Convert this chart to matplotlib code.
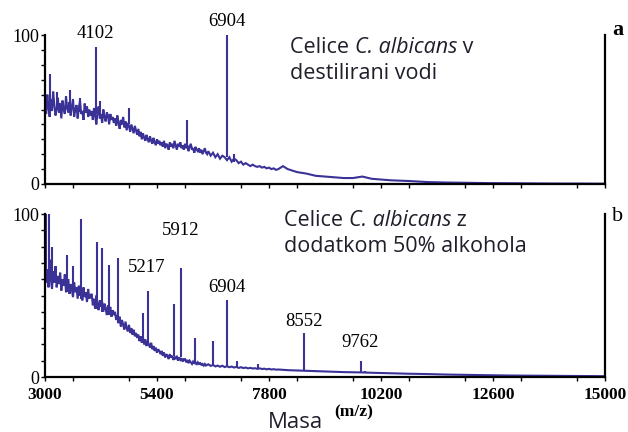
import numpy as np
import matplotlib
matplotlib.use("Agg")
import matplotlib.pyplot as plt
from matplotlib.ticker import MultipleLocator, FixedLocator

# ---------------- data ----------------
grid_mass = np.concatenate([np.arange(3000, 6501, 25), np.arange(6550, 8001, 50)])
tail_mass = [8100, 8200, 8400, 8600, 8800, 9000, 9200, 9400, 9600, 9800, 10000,
             10400, 10800, 11200, 11600, 12000, 12500, 13000, 13500, 14000, 14500, 15000]

top_grid = [55, 47, 60, 51, 45, 57, 49, 62, 53, 46, 50, 58, 48, 54, 44, 56, 50, 47, 59, 51,
            48, 55, 46, 52, 57, 45, 50, 53, 44, 51, 56, 47, 49, 43, 54, 48, 52, 45, 50, 46,
            49, 43, 51, 46, 40, 48, 52, 44, 47, 41, 50, 45, 42, 48, 46, 40, 47, 43, 45, 41,
            44, 39, 46, 41, 37, 43, 40, 45, 38, 42, 36, 41, 39, 35, 40, 37, 34, 39, 36, 33,
            37, 32, 35, 30, 34, 31, 29, 33, 30, 28, 32, 29, 27, 31, 28, 26, 30, 27, 29, 26,
            28, 25, 29, 24, 27, 26, 23, 28, 25, 27, 24, 29, 26, 23, 27, 25, 28, 24, 26, 23,
            27, 24, 26, 22, 25, 27, 23, 24, 21, 25, 23, 22, 24, 21, 23, 20, 22, 24, 21, 20,
            22,
            19, 21, 18, 20, 17, 19, 18, 16, 18, 15, 17, 16, 14, 15, 13, 14, 13, 12, 13, 12,
            11.5, 12, 11, 11.5, 10.5, 11, 10, 10.5, 9.5, 10]
top_tail = [12, 10, 8, 7, 5.5, 5, 4.5, 4, 4, 5, 3.5,
            2.5, 2, 1.3, 1, 0.8, 0.6, 0.5, 0.4, 0.3, 0.3, 0.2]

top_peak_mass = [3100, 3250, 3530, 3750, 4102, 4170, 4800, 6040, 6904, 7050]
top_peak_height = [74, 62, 63, 58, 92, 56, 51, 43, 100, 20]
top_peak_foot = [50, 52, 50, 48, 47, 45, 40, 26, 18, 15]

bot_grid = [70, 58, 66, 55, 72, 60, 54, 65, 58, 68, 55, 62, 57, 64, 53, 60, 56, 63, 52, 58,
            60, 51, 57, 54, 49, 58, 52, 55, 48, 56, 50, 53, 47, 55, 49, 52, 46, 54, 48, 50,
            51, 44, 48, 42, 50, 45, 41, 47, 43, 46, 40, 45, 42, 38, 44, 40, 43, 37, 41, 38,
            40, 35, 38, 33, 37, 31, 35, 32, 29, 34, 30, 28, 32, 27, 30, 26, 29, 25, 27, 24,
            26, 22, 25, 21, 24, 20, 23, 19, 22, 20, 18, 21, 17, 19, 16, 18, 15, 17, 16, 14,
            16, 13, 15, 12, 14, 13, 11, 14, 12, 13, 10.5, 12, 11, 13, 10, 12, 10.5, 11.5, 9.5, 11,
            11, 9, 10.5, 8.5, 10, 9, 8, 9.5, 8.5, 9, 7.5, 9, 8, 8.5, 7.5, 8, 7, 8, 7, 7.5,
            7.8,
            6.8, 7.4, 6.5, 7, 6.3, 6.9, 6.1, 6.6, 6, 6.4, 5.8, 6.2, 5.6, 6, 5.5, 5.8, 5.3, 5.6, 5.2, 5.4,
            5, 5.3, 4.9, 5.1, 4.7, 5, 4.6, 4.8, 4.5, 4.6]
bot_tail = [4.4, 4.2, 4, 3.8, 3.6, 3.4, 3.2, 3, 2.9, 2.8, 2.6,
            2.3, 2, 1.8, 1.5, 1.3, 1.1, 0.9, 0.8, 0.7, 0.6, 0.5]

bot_peak_mass = [3030, 3080, 3150, 3470, 3600, 3770, 4110, 4230, 4370, 4570,
                 5100, 5217, 5760, 5912, 6210, 6600, 6904, 7110, 7560, 7950,
                 8552, 8780, 9762, 9850]
bot_peak_height = [100, 100, 80, 75, 68, 97, 83, 79, 69, 73,
                   39, 53, 45, 67, 24, 22, 47, 10, 8, 5,
                   27, 4.5, 10, 3.5]
bot_peak_foot = [60, 60, 60, 52, 50, 48, 42, 40, 38, 33,
                 22, 20, 13, 12, 9.5, 7.5, 6.5, 6, 5.2, 4.6,
                 3.8, 3.5, 2.8, 2.7]

top_labels = ["4102", "6904"]
top_label_mass = [4071, 6904]
top_label_y = [101, 109]
bot_labels = ["5217", "5912", "6904", "8552", "9762"]
bot_label_mass = [5186, 5912, 6904, 8552, 9762]
bot_label_y = [67, 90, 55, 34, 21]

x_major = [3000, 5400, 7800, 10200, 12600, 15000]
x_labels = ["3000", "5400", "7800", "10200", "12600", "15000"]

# ---------------- figure ----------------
W, H = 628, 432
fig = plt.figure(figsize=(W / 100, H / 100), dpi=100)
col = '#3b3298'

def px_axes(x0, y0, x1, y1):
    return fig.add_axes([x0 / W, 1 - y1 / H, (x1 - x0) / W, (y1 - y0) / H])

ax1 = px_axes(45, 35, 605, 184)
ax2 = px_axes(45, 214, 605, 377)

panels = [
    (ax1, top_grid, top_tail, top_peak_mass, top_peak_height, top_peak_foot,
     top_labels, top_label_mass, top_label_y),
    (ax2, bot_grid, bot_tail, bot_peak_mass, bot_peak_height, bot_peak_foot,
     bot_labels, bot_label_mass, bot_label_y),
]

for ax, g, t, pm, ph, pf, lab, lm, ly in panels:
    xs = np.concatenate([grid_mass, tail_mass])
    ys = np.concatenate([g, t])
    ax.plot(xs, ys, color=col, lw=1.5, solid_joinstyle='miter')
    ax.vlines(pm, pf, ph, color=col, lw=1.5)
    ax.set_xlim(3000, 15000)
    ax.set_ylim(0, 100)
    ax.spines['top'].set_visible(False)
    for s in ['left', 'bottom', 'right']:
        ax.spines[s].set_linewidth(1.6)
    ax.xaxis.set_major_locator(FixedLocator(x_major))
    ax.xaxis.set_minor_locator(MultipleLocator(1200))
    ax.yaxis.set_major_locator(FixedLocator([0, 100]))
    ax.yaxis.set_minor_locator(MultipleLocator(10))
    ax.tick_params(axis='both', which='both', direction='out', length=3, width=1)
    ax.tick_params(axis='y', which='major', pad=1, length=3)
    ax.set_yticklabels(["0", "100"], fontfamily='Liberation Serif', fontsize=13)
    for s, m, y in zip(lab, lm, ly):
        ax.text(m, y, s, ha='center', va='center', fontfamily='Liberation Serif',
                fontsize=13.5, clip_on=False)

ax1.set_xticklabels([])
ax2.set_xticklabels(x_labels, fontfamily='Liberation Serif', fontsize=12.5,
                    fontweight='bold')
ax2.tick_params(axis='x', pad=4)

tc = '#1f1f2a'
fs = 15.5
renderer = fig.canvas.get_renderer()

def rich(xp, yp, parts):
    x = xp / W
    for s, style in parts:
        t = fig.text(x, 1 - yp / H, s, fontfamily='Open Sans', fontsize=fs, color=tc,
                     style=style, ha='left', va='baseline')
        bb = t.get_window_extent(renderer)
        x = (bb.x1) / W

rich(290, 53, [("Celice ", 'normal'), ("C. albicans", 'italic'), (" v", 'normal')])
rich(290, 79, [("destilirani vodi", 'normal')])
rich(284, 226, [("Celice ", 'normal'), ("C. albicans", 'italic'), (" z", 'normal')])
rich(284, 252, [("dodatkom 50% alkohola", 'normal')])

fig.text(612 / W, 1 - 30 / H, "a", fontfamily='Liberation Serif', fontsize=16,
         fontweight='bold', ha='left', va='center')
fig.text(612 / W, 1 - 217 / H, "b", fontfamily='Liberation Serif', fontsize=16,
         ha='left', va='center')

fig.text(296 / W, 1 - 423 / H, "Masa", fontfamily='Open Sans', fontsize=16, color=tc,
         ha='center', va='center')
fig.text(354 / W, 1 - 412 / H, "(m/z)", fontfamily='Liberation Serif', fontsize=12.5,
         fontweight='bold', ha='center', va='center')

fig.savefig("out.png", dpi=100)
